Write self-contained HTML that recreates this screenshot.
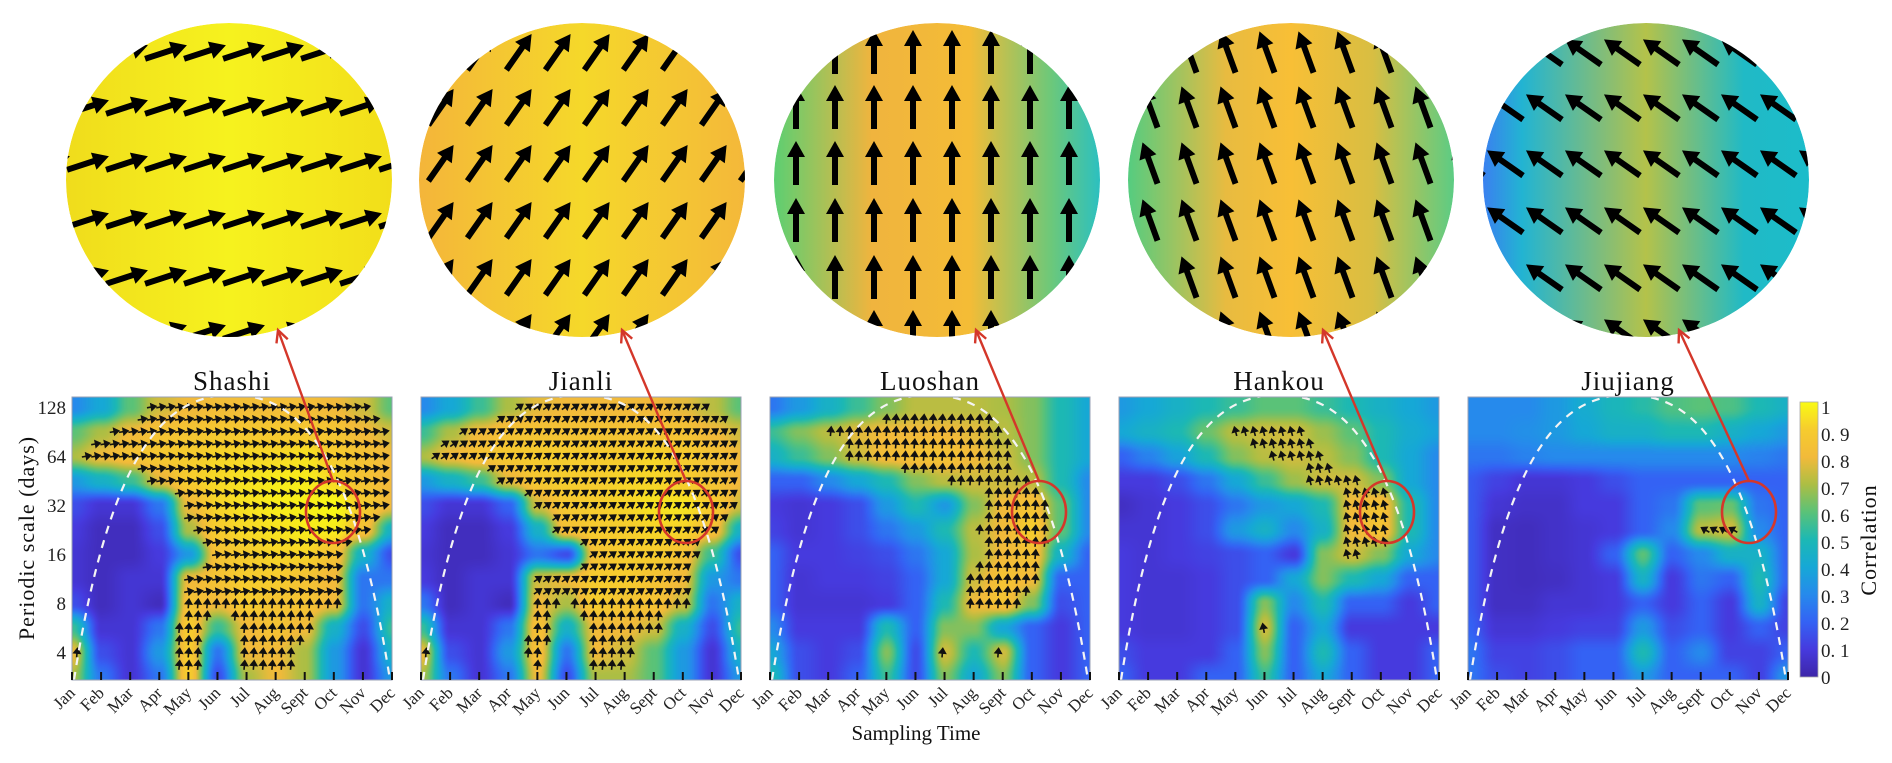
<!DOCTYPE html>
<html><head><meta charset="utf-8">
<style>
html,body{margin:0;padding:0;background:#fff;}
#wrap{position:relative;width:1892px;height:763px;overflow:hidden;background:#fff;font-family:"Liberation Serif",serif;}
canvas{position:absolute;}
svg{position:absolute;left:0;top:0;}
</style></head>
<body>
<div id="wrap">
<svg id="svg" width="1892" height="763"></svg>
</div>
<script>
// ---------- data ----------
const months=['Jan','Feb','Mar','Apr','May','Jun','Jul','Aug','Sept','Oct','Nov','Dec'];
const stations=['Shashi','Jianli','Luoshan','Hankou','Jiujiang'];
const scaleTicks=[128,64,32,16,8,4];
const cbTicks=['1','0. 9','0. 8','0. 7','0. 6','0. 5','0. 4','0. 3','0. 2','0. 1','0'];
// grid rows: log2(scale)=7.0,6.5,...,1.5 ; columns Jan..Dec
const gridShashi=[
[.3,.4,.6,.75,.8,.82,.82,.82,.82,.8,.75,.6],
[.6,.7,.8,.85,.86,.88,.88,.88,.88,.86,.8,.75],
[.7,.8,.85,.88,.9,.92,.93,.93,.95,.9,.85,.8],
[.35,.45,.55,.78,.9,.93,.95,.97,.97,.93,.85,.8],
[.15,.08,.08,.25,.8,.92,.95,.97,.98,1,.9,.8],
[.1,.04,.04,.15,.7,.9,.93,.95,.97,.97,.85,.45],
[.08,.04,.04,.1,.35,.85,.9,.92,.92,.85,.45,.15],
[.08,.04,.08,.08,.8,.85,.9,.9,.85,.8,.25,.25],
[.15,.04,.08,.04,.85,.8,.9,.85,.85,.8,.25,.45],
[.55,.08,.08,.25,.9,.55,.8,.85,.8,.45,.15,.55],
[.8,.15,.08,.35,.9,.25,.8,.8,.7,.35,.08,.45],
[.7,.25,.08,.25,.9,.15,.7,.8,.7,.35,.08,.35]];
const gridJianli=[
[.3,.4,.55,.7,.78,.8,.8,.8,.8,.78,.72,.6],
[.55,.7,.8,.85,.85,.85,.85,.85,.85,.85,.8,.75],
[.7,.8,.85,.88,.9,.9,.9,.9,.92,.9,.85,.8],
[.35,.45,.55,.78,.88,.9,.9,.92,.92,.9,.85,.8],
[.15,.08,.08,.2,.75,.88,.9,.92,.95,.95,.9,.75],
[.1,.04,.04,.1,.45,.85,.9,.9,.92,.92,.85,.45],
[.08,.04,.04,.08,.25,.15,.85,.9,.9,.85,.55,.15],
[.1,.04,.08,.08,.75,.8,.9,.9,.85,.8,.35,.25],
[.25,.04,.08,.04,.8,.7,.9,.85,.85,.75,.25,.45],
[.55,.08,.08,.25,.85,.45,.8,.8,.75,.45,.15,.55],
[.8,.15,.08,.35,.85,.25,.8,.75,.6,.35,.08,.45],
[.7,.25,.08,.25,.8,.15,.7,.7,.6,.35,.08,.35]];
const gridLuoshan=[
[.25,.35,.45,.55,.65,.72,.72,.72,.7,.65,.5,.4],
[.55,.65,.72,.78,.8,.8,.8,.78,.72,.65,.5,.4],
[.45,.55,.65,.75,.82,.85,.85,.8,.75,.65,.5,.4],
[.2,.2,.3,.4,.5,.65,.72,.75,.75,.72,.5,.3],
[.1,.08,.1,.15,.35,.5,.35,.65,.8,.85,.6,.3],
[.12,.08,.1,.15,.25,.35,.5,.72,.8,.9,.6,.3],
[.2,.1,.1,.12,.15,.25,.4,.7,.8,.85,.45,.2],
[.2,.08,.1,.1,.12,.2,.4,.75,.85,.8,.2,.2],
[.2,.08,.08,.08,.1,.2,.5,.8,.85,.65,.15,.2],
[.3,.1,.1,.1,.5,.2,.65,.65,.4,.2,.1,.2],
[.4,.15,.1,.15,.65,.15,.75,.5,.75,.2,.1,.2],
[.5,.15,.1,.2,.55,.15,.65,.4,.65,.2,.1,.2]];
const gridHankou=[
[.35,.4,.45,.5,.55,.6,.6,.55,.5,.45,.4,.35],
[.4,.45,.5,.62,.72,.75,.75,.68,.6,.5,.42,.38],
[.2,.28,.38,.5,.65,.72,.75,.72,.65,.5,.4,.3],
[.1,.1,.15,.25,.4,.55,.68,.75,.75,.65,.4,.3],
[.05,.08,.1,.15,.25,.35,.4,.5,.8,.85,.5,.3],
[.08,.08,.1,.15,.35,.45,.3,.45,.8,.85,.5,.3],
[.1,.08,.1,.12,.15,.2,.1,.65,.75,.65,.4,.3],
[.1,.08,.08,.1,.15,.2,.4,.65,.5,.4,.2,.2],
[.1,.08,.08,.1,.15,.65,.3,.5,.2,.2,.1,.2],
[.1,.08,.08,.1,.15,.75,.2,.4,.1,.1,.1,.1],
[.15,.1,.1,.1,.2,.65,.2,.5,.2,.1,.1,.2],
[.2,.1,.1,.2,.2,.55,.2,.4,.2,.1,.1,.2]];
const gridJiujiang=[
[.3,.3,.3,.35,.42,.48,.52,.58,.6,.58,.5,.45],
[.3,.3,.32,.35,.4,.45,.45,.5,.5,.45,.4,.35],
[.25,.25,.28,.3,.3,.3,.3,.3,.3,.3,.28,.25],
[.18,.12,.08,.08,.1,.15,.2,.2,.2,.2,.2,.2],
[.18,.08,.06,.06,.1,.1,.2,.25,.6,.62,.25,.2],
[.18,.05,.04,.06,.08,.1,.2,.3,.72,.76,.3,.2],
[.18,.05,.04,.06,.08,.2,.6,.2,.3,.45,.45,.2],
[.18,.05,.04,.05,.08,.1,.45,.1,.25,.2,.5,.2],
[.18,.05,.05,.08,.08,.1,.2,.1,.2,.1,.45,.12],
[.2,.08,.08,.1,.12,.12,.35,.15,.2,.1,.2,.12],
[.25,.12,.12,.15,.2,.2,.5,.2,.3,.12,.12,.2],
[.25,.15,.12,.15,.2,.2,.35,.2,.2,.2,.12,.35]];
const grids=[gridShashi,gridJianli,gridLuoshan,gridHankou,gridJiujiang];
const arrowAngleUpper=[10,35,85,105,150];
const arrowAngleLower=[85,85,85,100,150];
const bigArrowAngle=[18,55,90,110,145];

// ---------- layout ----------
const P0X=72,PSTEP=349,PW=320,PY=397,PH=283;
const NS='http://www.w3.org/2000/svg';
const svg=document.getElementById('svg');
const wrap=document.getElementById('wrap');
function el(tag,attrs,parent){const e=document.createElementNS(NS,tag);for(const k in attrs)e.setAttribute(k,attrs[k]);(parent||svg).appendChild(e);return e;}
function yOfLog(l){return 407+(7-l)*49;}
function xOfMonth(px,m){return px+m*PW/11;}

const stops=[[0,[62,38,168]],[.1,[70,58,222]],[.2,[52,98,244]],[.3,[38,138,236]],[.4,[22,168,214]],[.5,[28,184,180]],[.6,[90,194,120]],[.7,[172,190,68]],[.8,[242,186,58]],[.9,[246,204,46]],[1,[249,250,20]]];
function cmap(v){v=Math.max(0,Math.min(1,v));for(let i=1;i<stops.length;i++){if(v<=stops[i][0]){const a=stops[i-1],b=stops[i];const t=(v-a[0])/(b[0]-a[0]);return a[1].map((c,k)=>Math.round(c+(b[1][k]-c)*t));}}return stops[stops.length-1][1];}
function ss(t){return t*t*(3-2*t);}
function sample(g,m,r){m=Math.max(0,Math.min(11,m));r=Math.max(0,Math.min(11,r));const m0=Math.min(10,Math.floor(m)),r0=Math.min(10,Math.floor(r));const tm=ss(m-m0),tr=ss(r-r0);
const a=g[r0][m0]*(1-tm)+g[r0][m0+1]*tm,b=g[r0+1][m0]*(1-tm)+g[r0+1][m0+1]*tm;return a*(1-tr)+b*tr;}

// ---------- top circles ----------
const circleCx=[229,582,937,1291,1646],CY=180,RX=163,RY=157;
const circFills=[
 [[0,'#f0dc1c'],[0.5,'#f6f21e'],[1,'#f2de1a']],
 [[0,'#f4b53a'],[0.5,'#f5d82a'],[1,'#f4b83a']],
 [[0,'#5ccf72'],[0.3,'#f0b43e'],[0.6,'#f4bc36'],[0.85,'#6cc87a'],[1,'#2cc0c0']],
 [[0,'#55cc80'],[0.3,'#e8bb40'],[0.5,'#f8bf36'],[0.75,'#d8be42'],[1,'#5ccc84']],
 [[0,'#3a80f0'],[0.12,'#22b4d2'],[0.5,'#b4c24a'],[0.8,'#20bac6'],[1,'#1cbcca']]];
const defs=el('defs',{});
for(let i=0;i<5;i++){
 const lg=el('linearGradient',{id:'cg'+i,x1:'0',y1:'0',x2:'1',y2:'0'},defs);
 circFills[i].forEach(s=>el('stop',{offset:s[0],'stop-color':s[1]},lg));
 const cp=el('clipPath',{id:'cc'+i},defs);
 el('ellipse',{cx:circleCx[i],cy:CY,rx:RX,ry:RY},cp);
 const cpp=el('clipPath',{id:'pc'+i},defs);
 el('rect',{x:P0X+i*PSTEP,y:PY,width:PW,height:PH},cpp);
}
for(let i=0;i<5;i++){
 const g=el('g',{'clip-path':'url(#cc'+i+')'});
 
 
 el('ellipse',{cx:circleCx[i],cy:CY,rx:RX,ry:RY,fill:'url(#cg'+i+')'},g);
 const rows=[52,107,163,220,277,332];
 rows.forEach(ry=>{
  for(let x=circleCx[i]-180;x<=circleCx[i]+180;x+=39){
   const a=el('path',{d:'M -22 -3 L 6 -3 L 6 -9 L 22 0 L 6 9 L 6 3 L -22 3 Z',fill:'#000',transform:`translate(${x},${ry}) rotate(${-bigArrowAngle[i]})`},g);
   
   
  }
 });
}

// ---------- panels ----------
for(let i=0;i<5;i++){
 const px=P0X+i*PSTEP;
 const cv=document.createElement('canvas');cv.width=PW;cv.height=PH;
 cv.style.left=px+'px';cv.style.top=PY+'px';
 
 
 wrap.insertBefore(cv,svg);
 const ctx=cv.getContext('2d');const img=ctx.createImageData(PW,PH);
 for(let y=0;y<PH;y++){const r=(y+PY-407)/24.5;for(let x=0;x<PW;x++){const m=x/PW*11;const c=cmap(sample(grids[i],m,r));const k=(y*PW+x)*4;img.data[k]=c[0];img.data[k+1]=c[1];img.data[k+2]=c[2];img.data[k+3]=255;}}
 ctx.putImageData(img,0,0);

 const pg=el('g',{'clip-path':'url(#pc'+i+')'});
 
 
 for(let y=PY+10;y<PY+PH-3;y+=12.3){
  const r=(y-407)/24.5;const l=7-(y-407)/49;
  for(let x=px+5;x<px+PW;x+=9.3){
   const v=sample(grids[i],(x-px)/PW*11,r);
   if(v>0.72){
    const an=l<3.2?arrowAngleLower[i]:arrowAngleUpper[i];
    const a=el('path',{d:'M -4.5 0 L 1 0 M 0 -3 L 4.5 0 L 0 3 Z',stroke:'#111','stroke-width':1.6,fill:'#111',transform:`translate(${x.toFixed(1)},${y.toFixed(1)}) rotate(${-an})`},pg);
    
    
   }
  }
 }
 const coi=el('path',{d:`M ${px+2} ${PY+PH} C ${px+40} ${PY+40}, ${px+PW/2-60} ${PY-2}, ${px+PW/2} ${PY-2} C ${px+PW/2+60} ${PY-2}, ${px+PW-40} ${PY+40}, ${px+PW-2} ${PY+PH}`,fill:'none',stroke:'#f4f4f4','stroke-width':2.2,'stroke-dasharray':'8 7'},pg);
 
 
 const fr=el('rect',{x:px,y:PY,width:PW,height:PH,fill:'none',stroke:'#9aa0b4','stroke-width':1});
 
 
 months.forEach((mn,k)=>{
  const x=xOfMonth(px,k);
  const t=el('line',{x1:x,y1:PY+PH,x2:x,y2:PY+PH-8,stroke:'#111','stroke-width':2});
  
  
  const tx=el('text',{x:x+4,y:PY+PH+14,'font-size':17,'text-anchor':'end',transform:`rotate(-45 ${x+4} ${PY+PH+14})`,fill:'#222'});
  tx.textContent=mn;
  
  
 });
 const tl=el('text',{x:px+PW/2,y:390,'font-size':27,'text-anchor':'middle',fill:'#111','letter-spacing':'1'});
 tl.textContent=stations[i];
 
 
}

const redOff=[261,265,269,268,281];
const tipX=[278,622,976,1323,1679];
for(let i=0;i<5;i++){
 const cx=P0X+i*PSTEP+redOff[i],cy=512;
 const rc=el('ellipse',{cx:cx,cy:cy,rx:27,ry:31,fill:'none',stroke:'#d4372a','stroke-width':2.6});
 
 
 const x2=tipX[i],y2=330;
 const ln=el('line',{x1:cx,y1:cy-31,x2:x2,y2:y2,stroke:'#d4372a','stroke-width':2.4});
 
 
 const ang=Math.atan2(y2-(cy-31),x2-cx)*180/Math.PI;
 const hd=el('path',{d:'M -12 -6 L 0 0 L -12 6',fill:'none',stroke:'#d4372a','stroke-width':2.4,transform:`translate(${x2},${y2}) rotate(${ang})`});
 
 
}

scaleTicks.forEach((s,k)=>{
 const y=yOfLog(Math.log2(s));
 const t=el('text',{x:66,y:y+7,'font-size':19,'text-anchor':'end',fill:'#222'});
 t.textContent=s;
 
 
});
const yt=el('text',{x:34,y:538,'font-size':22,'text-anchor':'middle',transform:'rotate(-90 34 538)',fill:'#111','letter-spacing':'1'});
yt.textContent='Periodic scale (days)';


const xt=el('text',{x:916,y:740,'font-size':21,'text-anchor':'middle',fill:'#111'});
xt.textContent='Sampling Time';



const cbg=el('linearGradient',{id:'cbg',x1:'0',y1:'1',x2:'0',y2:'0'},defs);
for(let k=0;k<=20;k++){const c=cmap(k/20);el('stop',{offset:k/20,'stop-color':`rgb(${c.join(',')})`},cbg);}
const cb=el('rect',{x:1800,y:402,width:18,height:275,fill:'url(#cbg)',stroke:'#aaa','stroke-width':0.8});


cbTicks.forEach((lab,k)=>{
 const y=407+k*27;
 const t=el('text',{x:1821,y:y+7,'font-size':19,fill:'#222'});
 t.textContent=lab;
 
 
});
const ct=el('text',{x:1876,y:540,'font-size':22,'text-anchor':'middle',transform:'rotate(-90 1876 540)',fill:'#111','letter-spacing':'1'});
ct.textContent='Correlation';


</script>
</body></html>
